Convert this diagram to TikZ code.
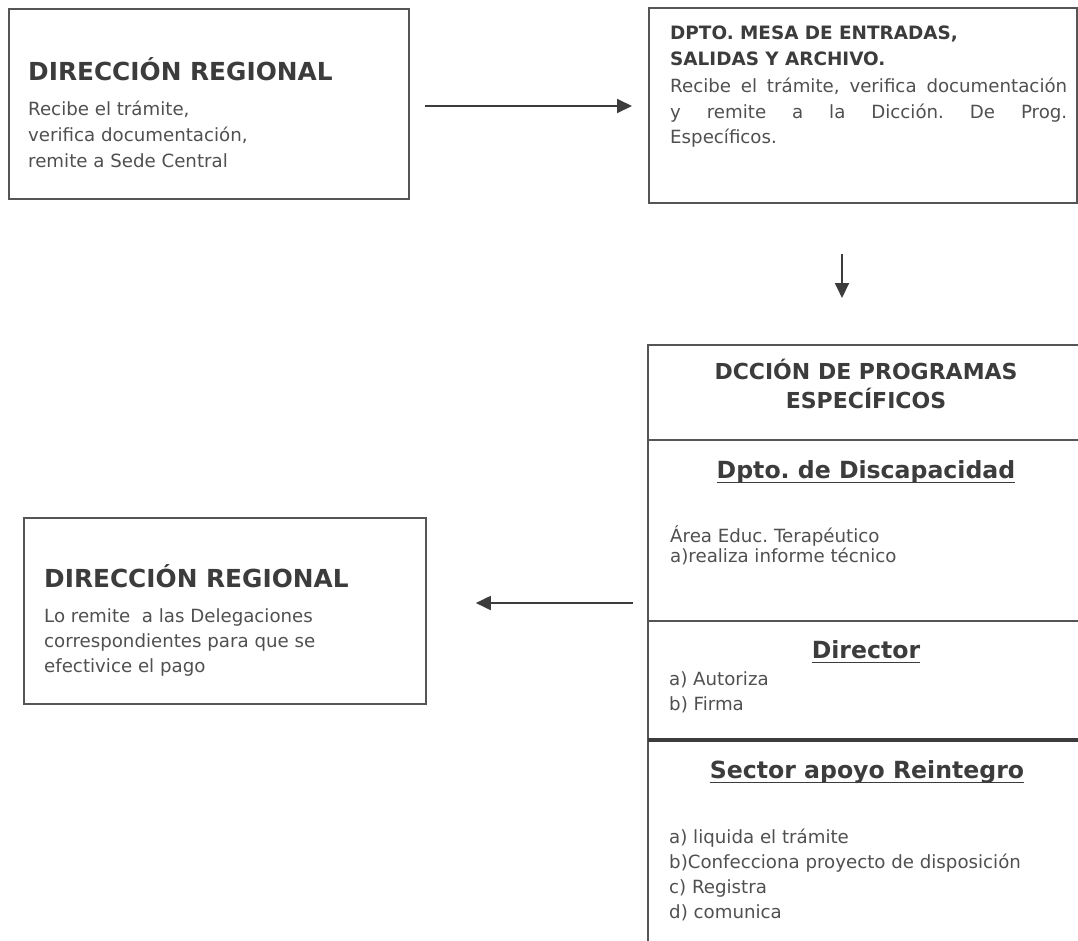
\documentclass[tikz,border=0pt]{standalone}
\usepackage{fontspec}
\setmainfont{DejaVu Sans}
\usetikzlibrary{arrows.meta}
\definecolor{tcol}{HTML}{3C3C3C}
\definecolor{bcol}{HTML}{505050}
\definecolor{lcol}{HTML}{555555}
\frenchspacing
\begin{document}
\begin{tikzpicture}[x=1pt,y=-1pt,
  boxst/.style={draw=lcol, line width=1.8pt, rectangle, inner sep=0pt, anchor=north west},
  ttl/.style={font=\fontsize{24.8}{30}\selectfont\bfseries, text=tcol, inner sep=0pt, anchor=base west},
  sttl/.style={font=\fontsize{18.4}{22}\selectfont\bfseries, text=tcol, inner sep=0pt, anchor=base west},
  cttl/.style={font=\fontsize{22}{26}\selectfont\bfseries, text=tcol, inner sep=0pt, anchor=base},
  uttl/.style={font=\fontsize{23.6}{28}\selectfont\bfseries, text=tcol, inner sep=0pt, anchor=base},
  bod/.style={font=\fontsize{18.2}{22}\selectfont\frenchspacing, text=bcol, inner sep=0pt, anchor=base west},
  arr/.style={draw=tcol, line width=1.8pt, -{Triangle[length=15pt,width=14pt]}},
  sep/.style={draw=lcol, line width=1.6pt},
  uline/.style={draw=tcol, line width=1.6pt}]
\useasboundingbox (0,0) rectangle (1078,940);
\clip (0,0) rectangle (1078,940);
\fill[white] (0,0) rectangle (1078,940);

% Box 1
\node[boxst, minimum width=400pt, minimum height=190pt] (b1) at (8,8) {};
\node[ttl] (b1t) at (28,80) {DIRECCIÓN REGIONAL};
\node[bod] (b1l1) at (28,115) {Recibe el trámite,};
\node[bod] (b1l2) at (28,141) {verifica documentación,};
\node[bod] (b1l3) at (28,167) {remite a Sede Central};

% Box 2
\node[boxst, minimum width=428pt, minimum height=195pt] (b2) at (648,7) {};
\node[sttl] (b2t1) at (670,39) {DPTO. MESA DE ENTRADAS,};
\node[sttl] (b2t2) at (670,65) {SALIDAS Y ARCHIVO.};
\node[bod] (b2l1) at (670,92) {\makebox[397pt][s]{Recibe el trámite, verifica documentación}};
\node[bod] (b2l2) at (670,118) {\makebox[397pt][s]{y remite a la Dicción. De Prog.}};
\node[bod] (b2l3) at (670,143) {Específicos.};

% Box 3 (multi-part, extends beyond the right and bottom edges)
\coordinate (b3nw) at (648,345);
\coordinate (b3top) at (842,345);
\coordinate (b3w) at (648,603);
\draw[sep] (1090,345) -- (b3nw) -- (648,945);
\draw[sep] (648,440) -- (1090,440);
\draw[sep] (648,621) -- (1090,621);
\draw[draw=tcol, line width=3.2pt] (648,740) -- (1090,740);

\node[cttl] (b3t1) at (866,379) {DCCIÓN DE PROGRAMAS};
\node[cttl] (b3t2) at (866,408) {ESPECÍFICOS};

\node[uttl] (s1) at (866,478) {Dpto. de Discapacidad};
\draw[uline] ([yshift=-4.5pt]s1.base west) -- ([yshift=-4.5pt]s1.base east);
\node[bod] (s1l1) at (670,542) {Área Educ. Terapéutico};
\node[bod] (s1l2) at (670,562) {a)realiza informe técnico};

\node[uttl] (s2) at (866,658) {Director};
\draw[uline] ([yshift=-4.5pt]s2.base west) -- ([yshift=-4.5pt]s2.base east);
\node[bod] (s2l1) at (669,685) {a) Autoriza};
\node[bod] (s2l2) at (669,710) {b) Firma};

\node[uttl] (s3) at (867,778) {Sector apoyo Reintegro};
\draw[uline] ([yshift=-4.5pt]s3.base west) -- ([yshift=-4.5pt]s3.base east);
\node[bod] (s3l1) at (669,843) {a) liquida el trámite};
\node[bod] (s3l2) at (669,868) {b)Confecciona proyecto de disposición};
\node[bod] (s3l3) at (669,893) {c) Registra};
\node[bod] (s3l4) at (669,918) {d) comunica};

% Box 4
\node[boxst, minimum width=402pt, minimum height=186pt] (b4) at (23,517) {};
\node[ttl] (b4t) at (44,587) {DIRECCIÓN REGIONAL};
\node[bod] (b4l1) at (44,622) {Lo remite\ \ a las Delegaciones};
\node[bod] (b4l2) at (44,647) {correspondientes para que se};
\node[bod] (b4l3) at (44,672) {efectivice el pago};

% Connectors
\draw[arr, shorten <=15pt, shorten >=16pt] (b1.east |- 0,106) -- (b2.west |- 0,106);
\draw[arr, shorten <=50pt, shorten >=47pt] (b2.south -| b3top) -- (b3top);
\draw[arr, shorten <=15pt, shorten >=49pt] (b3w) -- (b4.east |- b3w);
\end{tikzpicture}
\end{document}
